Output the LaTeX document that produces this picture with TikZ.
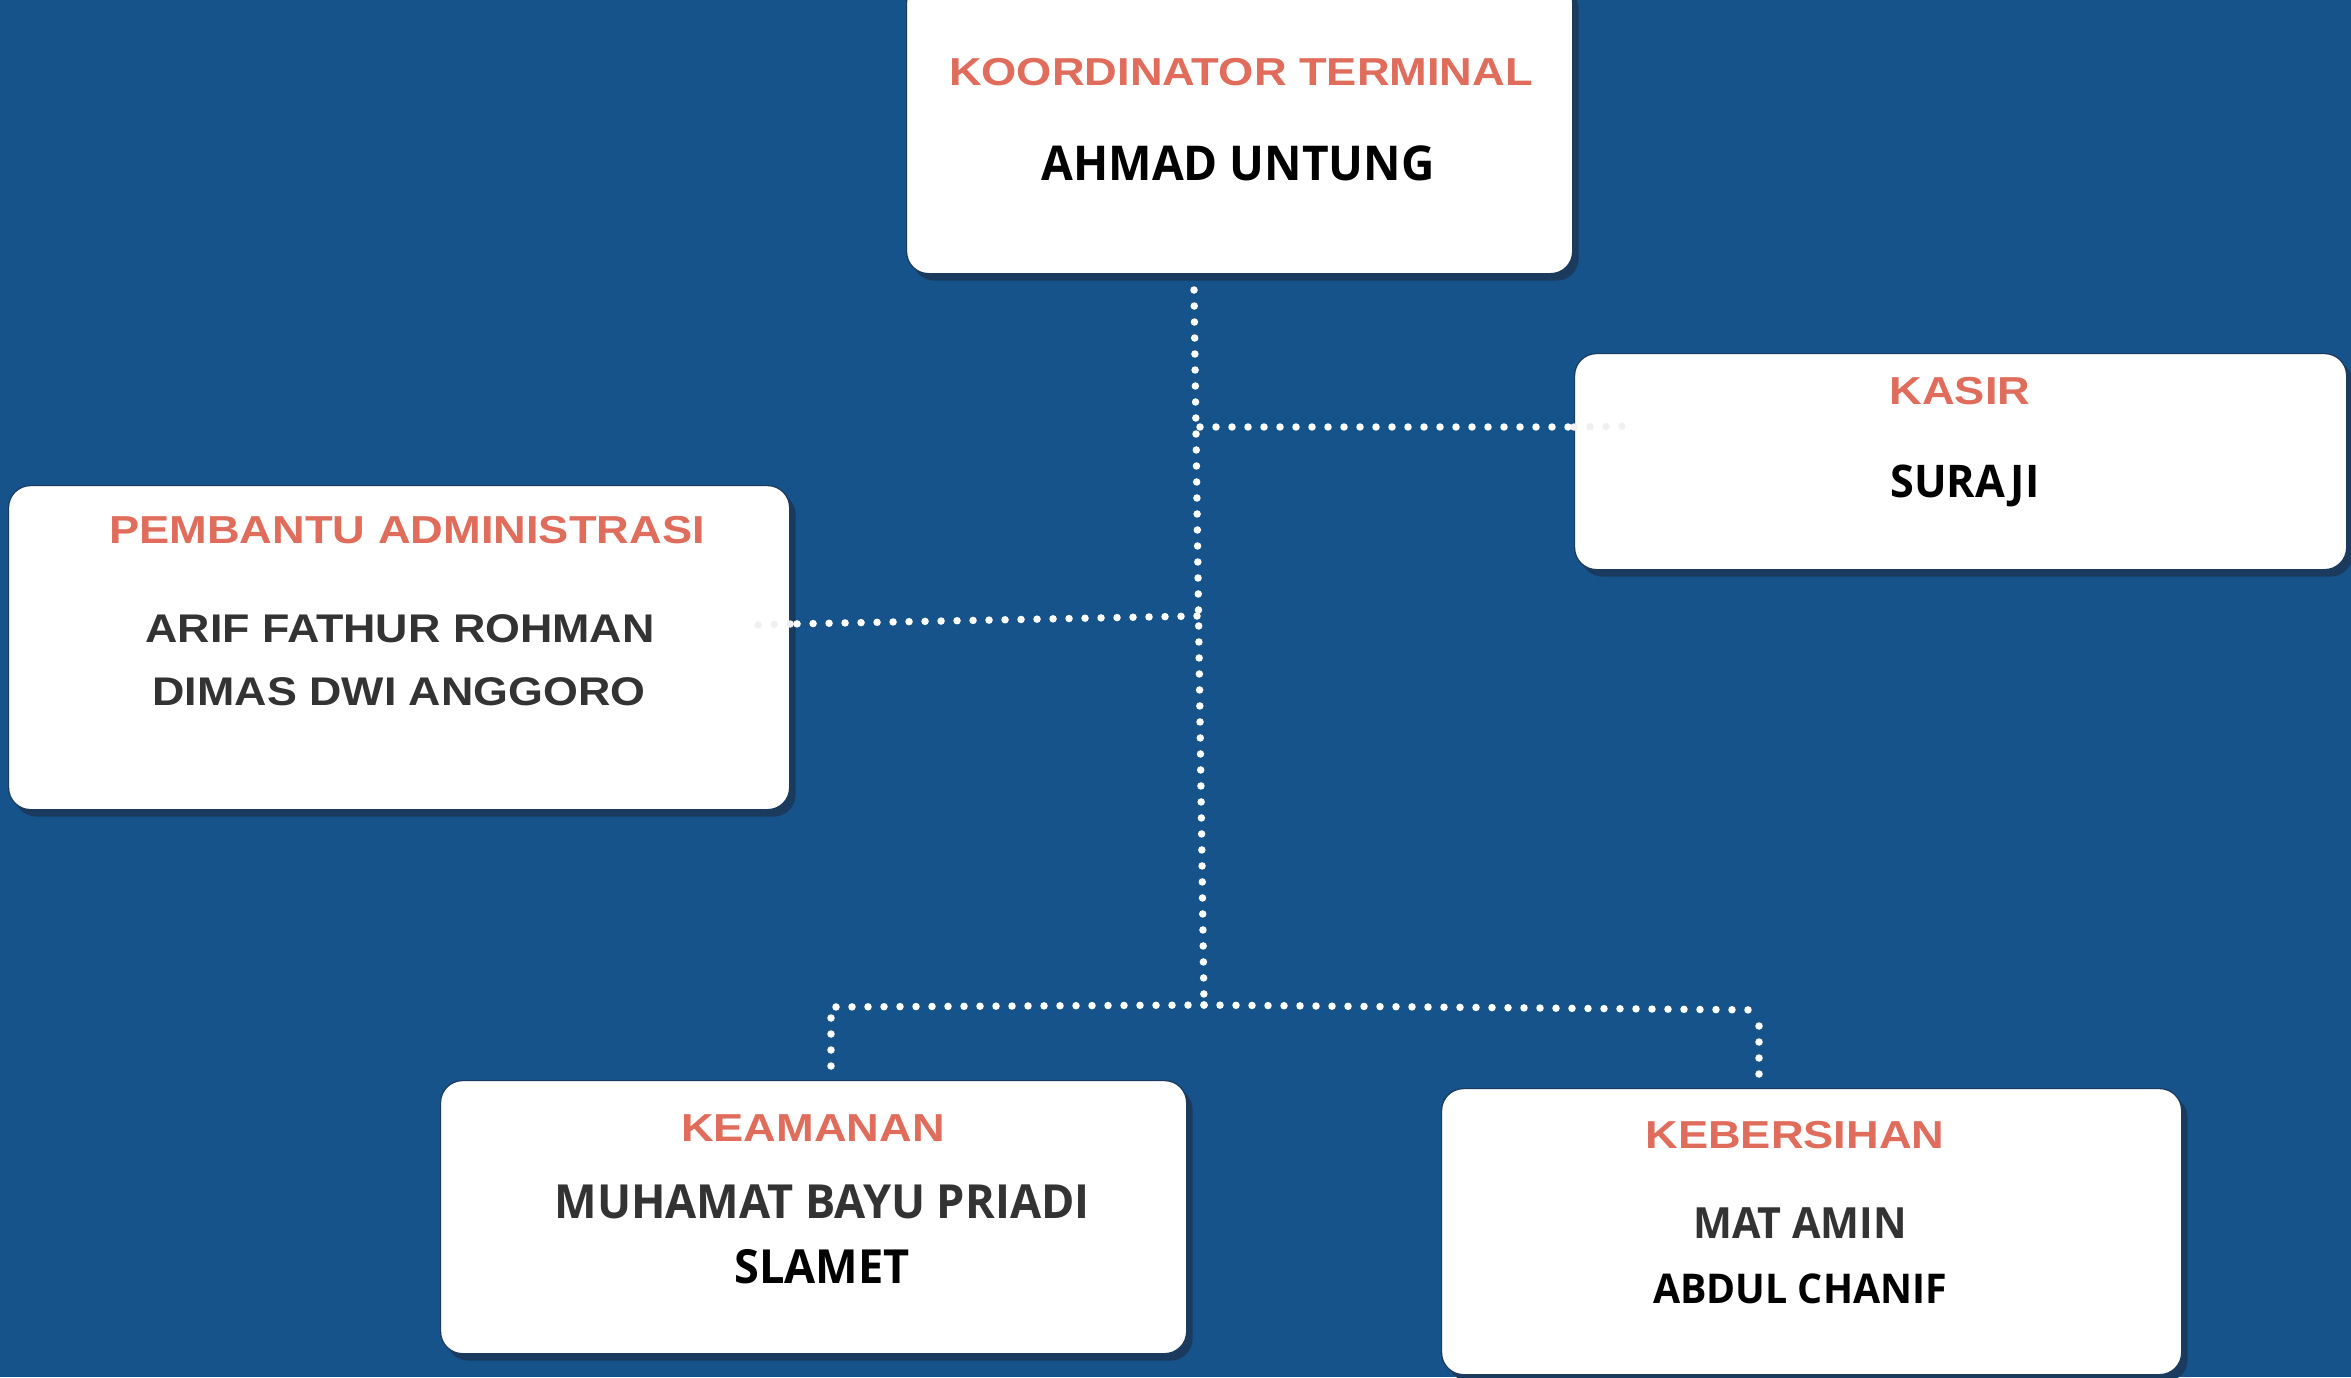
\documentclass[tikz,border=0pt]{standalone}
\usepackage{fontspec}
\setmainfont{Open Sans}
\newfontfamily\titlefont{Liberation Sans}[FakeStretch=1.16]
\newfontfamily\grotfont{Liberation Sans}[FakeStretch=1.12]
\newfontfamily\namefont{Open Sans}[FakeStretch=0.96]
\usetikzlibrary{shadows}
\definecolor{bg}{HTML}{15538A}
\definecolor{shadowc}{HTML}{1A3A5E}
\definecolor{titlec}{HTML}{E06C5C}
\definecolor{namegray}{HTML}{333333}
\begin{document}
\begin{tikzpicture}[x=1pt,y=-1pt,
  card/.style={fill=white, draw=shadowc, line width=1.2pt, rounded corners=22pt,
    inner sep=0pt, anchor=north west,
    drop shadow={shadow xshift=6pt, shadow yshift=-7pt, fill=shadowc, opacity=1}},
  ttl/.style={font=\titlefont\bfseries\fontsize{39}{45}\selectfont, text=titlec, inner sep=0pt, anchor=base},
  nm/.style={font=\namefont\bfseries\fontsize{#1}{#1}\selectfont, text=black, inner sep=0pt, anchor=base},
  nmg/.style={nm=#1, text=namegray},
  grot/.style={font=\grotfont\bfseries\fontsize{40}{46}\selectfont, text=namegray, inner sep=0pt, anchor=base},
  dots/.style={draw=white, line width=7.5pt, line cap=round, dash pattern=on 0pt off 16pt},
  fdots/.style={dots, draw=black!6},
]
\fill[bg] (0,0) rectangle (2351,1377);
\useasboundingbox (0,0) rectangle (2351,1377);

% cards
\node[card, minimum width=666pt, minimum height=293pt] (top) at (906,-20) {};
\node[card, minimum width=772pt, minimum height=216pt] (kasir) at (1574,353) {};
\node[card, minimum width=781pt, minimum height=324pt] (pemb) at (8,485) {};
\node[card, minimum width=746pt, minimum height=273pt] (keam) at (440,1080) {};
\node[card, minimum width=740pt, minimum height=286pt] (keber) at (1441,1088) {};

% texts
\node[ttl] (ttop) at (1241,85) {KOORDINATOR TERMINAL};
\node[nm=48] (ntop) at (1238,180) {AHMAD UNTUNG};

\node[ttl] (tkasir) at (1960,404) {KASIR};
\node[nm=45] (nkasir) at (1965,497) {SURAJI};

\node[ttl] (tpemb) at (407,543) {PEMBANTU ADMINISTRASI};
\node[grot] (npemba) at (400,642) {ARIF FATHUR ROHMAN};
\node[grot] (npembb) at (399,705) {DIMAS DWI ANGGORO};

\node[ttl] (tkeam) at (813,1141) {KEAMANAN};
\node[nmg=47] (nkeama) at (822,1218) {MUHAMAT BAYU PRIADI};
\node[nm=47] (nkeamb) at (822,1283) {SLAMET};

\node[ttl] (tkeber) at (1795,1148) {KEBERSIHAN};
\node[nmg=43] (nkebera) at (1800,1238) {MAT AMIN};
\node[nm=41] (nkeberb) at (1800,1303) {ABDUL CHANIF};

% connector junctions
\coordinate (t0) at (1194,290);
\coordinate (jk) at (1200,427);
\coordinate (jp) at (1197,616);
\coordinate (jb) at (1204,1005);
\coordinate (bl) at (831,1007);
\coordinate (br) at (1759,1010);
\coordinate (pe) at (754,625);
\coordinate (ke) at (1630,426);

\draw[dots] (t0) -- (jb);
\draw[dots] (jk) -- (jk -| kasir.west);
\draw[fdots] (jk -| kasir.west) -- (ke);
\draw[dots] (jp) -- (pemb.east |- 0,624);
\draw[fdots] (pemb.east |- 0,624) -- (pe);
\draw[dots] (jb) -- (bl) -- (bl |- 0,1072);
\draw[dots] (jb) -- (br);
\draw[dots, shorten >=8pt] (br) ++(0,16) -- (br |- keber.north);
\end{tikzpicture}
\end{document}
